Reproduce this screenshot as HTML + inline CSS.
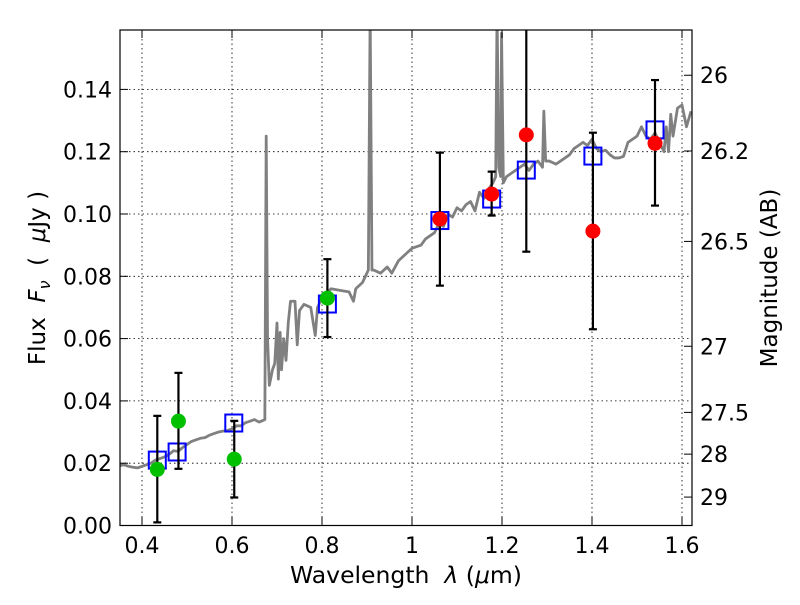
<!DOCTYPE html>
<html><head><meta charset="utf-8"><style>
body{margin:0;background:#fff}
svg text{font-family:"DejaVu Sans","Liberation Sans",sans-serif;fill:#000;white-space:pre}
</style></head><body>
<svg id="chart" width="800" height="600" xmlns="http://www.w3.org/2000/svg">
<g id="grid"></g>
<g id="spec"></g>
<g id="marks"></g>
<rect x="120" y="30" width="572" height="495.5" fill="none" stroke="#000" stroke-width="1.2"/>
<g id="axes"></g>
<text x="406" y="583" text-anchor="middle" font-size="23.5">Wavelength  <tspan font-style="italic">λ</tspan> (<tspan font-style="italic">μ</tspan>m)</text>
<text transform="translate(45,278) rotate(-90)" text-anchor="middle" font-size="23">Flux  <tspan font-style="italic">F</tspan><tspan font-style="italic" font-size="16" dy="5">ν</tspan><tspan dy="-5">  (  </tspan><tspan font-style="italic">μ</tspan>Jy )</text>
<text transform="translate(777,278) rotate(-90)" text-anchor="middle" font-size="23">Magnitude (AB)</text>
</svg>
<script>
const xTicks=[0.4,0.6,0.8,1,1.2,1.4,1.6];
const xTickLabels=["0.4","0.6","0.8","1","1.2","1.4","1.6"];
const yTicks=[0,0.02,0.04,0.06,0.08,0.1,0.12,0.14];
const yTickLabels=["0.00","0.02","0.04","0.06","0.08","0.10","0.12","0.14"];
const magTicks=[26,26.2,26.5,27,27.5,28,29];
const magTickLabels=["26","26.2","26.5","27","27.5","28","29"];
const specWave=[0.35,0.36,0.37,0.38,0.39,0.40,0.41,0.42,0.43,0.44,0.45,0.46,0.47,0.48,0.49,0.50,0.51,0.52,0.53,0.54,0.55,0.56,0.57,0.58,0.59,0.60,0.61,0.62,0.63,0.64,0.65,0.66,0.665,0.673,0.676,0.679,0.683,0.69,0.695,0.70,0.703,0.707,0.71,0.715,0.72,0.725,0.73,0.74,0.745,0.75,0.76,0.775,0.785,0.79,0.80,0.82,0.84,0.86,0.87,0.875,0.89,0.903,0.907,0.911,0.915,0.93,0.945,0.955,0.97,0.985,1.0,1.01,1.02,1.03,1.04,1.05,1.06,1.07,1.08,1.09,1.1,1.11,1.12,1.13,1.14,1.15,1.16,1.17,1.18,1.186,1.189,1.193,1.197,1.199,1.203,1.21,1.22,1.23,1.24,1.25,1.26,1.27,1.28,1.29,1.293,1.297,1.305,1.32,1.33,1.34,1.35,1.36,1.37,1.38,1.39,1.40,1.41,1.42,1.43,1.44,1.45,1.46,1.47,1.48,1.49,1.50,1.51,1.52,1.53,1.54,1.55,1.56,1.565,1.57,1.575,1.58,1.59,1.60,1.61,1.62];
const specFlux=[0.0192,0.0195,0.019,0.0187,0.0185,0.019,0.0195,0.020,0.021,0.0215,0.022,0.0228,0.024,0.0238,0.025,0.026,0.027,0.0275,0.028,0.0282,0.029,0.0295,0.030,0.0303,0.0305,0.031,0.032,0.032,0.033,0.0335,0.034,0.0332,0.0335,0.034,0.125,0.060,0.045,0.05,0.052,0.065,0.047,0.062,0.05,0.06,0.053,0.065,0.072,0.072,0.058,0.069,0.071,0.070,0.061,0.07,0.073,0.076,0.0755,0.075,0.072,0.076,0.078,0.082,0.165,0.082,0.082,0.081,0.083,0.081,0.085,0.087,0.089,0.0895,0.090,0.092,0.093,0.094,0.097,0.096,0.100,0.099,0.102,0.101,0.103,0.104,0.101,0.107,0.105,0.108,0.110,0.112,0.165,0.115,0.112,0.158,0.110,0.112,0.113,0.114,0.115,0.116,0.114,0.116,0.117,0.115,0.133,0.117,0.117,0.116,0.117,0.118,0.119,0.121,0.122,0.123,0.122,0.124,0.121,0.120,0.1205,0.119,0.118,0.118,0.1185,0.123,0.124,0.125,0.128,0.125,0.124,0.126,0.123,0.120,0.128,0.120,0.132,0.125,0.134,0.135,0.128,0.133];
const greenWave=[0.434,0.481,0.605,0.812];
const greenFlux=[0.018,0.0335,0.0213,0.073];
const greenLo=[0.001,0.0182,0.009,0.0605];
const greenHi=[0.0352,0.049,0.0336,0.0855];
const redWave=[1.062,1.177,1.254,1.402,1.54];
const redFlux=[0.0984,0.1064,0.1254,0.0945,0.1227];
const redLo=[0.077,0.0995,0.0879,0.063,0.1027];
const redHi=[0.1197,0.1136,0.17,0.1261,0.143];
const modelWave=[0.434,0.478,0.604,0.812,1.062,1.177,1.254,1.402,1.54];
const modelFlux=[0.021,0.0236,0.0329,0.0711,0.0979,0.1048,0.1141,0.1186,0.127];

const X=v=>412+(v-1)*450;
const Y=f=>525.5-f*3115;
const NS="http://www.w3.org/2000/svg";
function mk(tag,parent,attrs){const e=document.createElementNS(NS,tag);for(const k in attrs)e.setAttribute(k,attrs[k]);parent.appendChild(e);return e;}
const grid=document.getElementById('grid'),axes=document.getElementById('axes'),spec=document.getElementById('spec'),marks=document.getElementById('marks');
xTicks.forEach((v,i)=>{
 const g=mk('line',grid,{x1:X(v),x2:X(v),y1:30,y2:525.5,stroke:'#000','stroke-width':0.8,'stroke-dasharray':'1.5,3'});
 
 
 mk('line',axes,{x1:X(v),x2:X(v),y1:525.5,y2:517,stroke:'#000'});
 mk('line',axes,{x1:X(v),x2:X(v),y1:30,y2:38,stroke:'#000'});
 const t=mk('text',axes,{x:X(v),y:553,'text-anchor':'middle','font-size':22});t.textContent=xTickLabels[i];
 
 
});
yTicks.forEach((v,i)=>{
 if(v>0){const g=mk('line',grid,{x1:120,x2:692,y1:Y(v),y2:Y(v),stroke:'#000','stroke-width':0.8,'stroke-dasharray':'1.5,3'});
 
 }
 mk('line',axes,{x1:120,x2:128,y1:Y(v),y2:Y(v),stroke:'#000'});
 const t=mk('text',axes,{x:112,y:Y(v)+8,'text-anchor':'end','font-size':22});t.textContent=yTickLabels[i];
 
 
});
magTicks.forEach((m,i)=>{
 const f=Math.pow(10,(23.9-m)/2.5);
 mk('line',axes,{x1:684,x2:692,y1:Y(f),y2:Y(f),stroke:'#000'});
 const t=mk('text',axes,{x:700,y:Y(f)+8,'font-size':22});t.textContent=magTickLabels[i];
 
 
});
const cp=mk('clipPath',document.getElementById('chart'),{id:'clip'});mk('rect',cp,{x:120,y:30,width:572,height:495.5});
spec.setAttribute('clip-path','url(#clip)');
const p=mk('polyline',spec,{points:specWave.map((w,i)=>X(w)+','+Y(specFlux[i])).join(' '),fill:'none',stroke:'#808080','stroke-width':2.8,'stroke-linejoin':'round'});


marks.setAttribute('clip-path','url(#clip)');
function err(w,lo,hi){mk('line',marks,{x1:X(w),x2:X(w),y1:Y(lo),y2:Y(hi),stroke:'#000','stroke-width':2.2});
 [lo,hi].forEach(v=>mk('line',marks,{x1:X(w)-4,x2:X(w)+4,y1:Y(v),y2:Y(v),stroke:'#000','stroke-width':2.2}));}
modelWave.forEach((w,i)=>{const r=mk('rect',marks,{x:X(w)-8.5,y:Y(modelFlux[i])-8.5,width:17,height:17,fill:'none',stroke:'#0000ff','stroke-width':2});
 
 });
greenWave.forEach((w,i)=>{err(w,greenLo[i],greenHi[i]);const c=mk('circle',marks,{cx:X(w),cy:Y(greenFlux[i]),r:7.5,fill:'#00c000'});
 
 });
redWave.forEach((w,i)=>{err(w,redLo[i],redHi[i]);const c=mk('circle',marks,{cx:X(w),cy:Y(redFlux[i]),r:7.5,fill:'#ff0000'});
 
 });
</script>
</body></html>
